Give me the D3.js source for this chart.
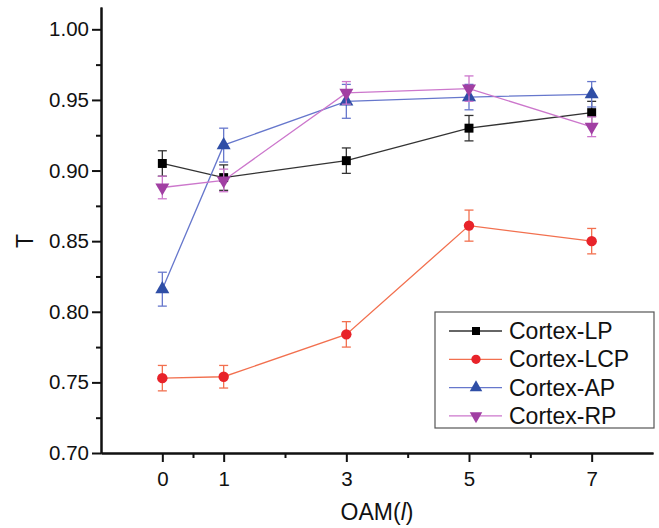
<!DOCTYPE html>
<html lang="en">
<head>
  <meta charset="UTF-8">
  <title>Cortex T vs OAM</title>
  <script src="https://d3js.org/d3.v7.min.js"></script>
  <style>
    body { margin: 0; background: #fff; }
    text { font-family: "Liberation Sans", Arial, sans-serif; fill: #111; }
    .axis path, .axis line { stroke: #111; stroke-width: 2px; }
    .axis text { font-size: 20.5px; }
  </style>
</head>
<body>
<svg id="chart" width="659" height="528"></svg>
<script>
  // data
  const oam = [0, 1, 3, 5, 7];
  const seriesNames = ["Cortex-LP", "Cortex-LCP", "Cortex-AP", "Cortex-RP"];
  const lpT   = [0.905, 0.895, 0.907, 0.930, 0.941];
  const lpErr = [0.009, 0.009, 0.009, 0.009, 0.008];
  const lcpT   = [0.753, 0.754, 0.784, 0.861, 0.850];
  const lcpErr = [0.009, 0.008, 0.009, 0.011, 0.009];
  const apT   = [0.816, 0.918, 0.949, 0.952, 0.954];
  const apErr = [0.012, 0.012, 0.012, 0.009, 0.009];
  const rpT   = [0.888, 0.893, 0.955, 0.958, 0.931];
  const rpErr = [0.008, 0.008, 0.008, 0.009, 0.007];
  const yTicks = [0.70, 0.75, 0.80, 0.85, 0.90, 0.95, 1.00];
  const yMinor = [0.725, 0.775, 0.825, 0.875, 0.925, 0.975];
  const xMinor = [0.5, 2, 4, 6];

  const series = [
    { name: seriesNames[0], t: lpT,  err: lpErr,  line: "#333333", mark: "#000000", shape: d3.symbolSquare,   size: 80,  rot: 0 },
    { name: seriesNames[1], t: lcpT, err: lcpErr, line: "#f2704f", mark: "#e8232a", shape: d3.symbolCircle,   size: 85,  rot: 0 },
    { name: seriesNames[2], t: apT,  err: apErr,  line: "#6677cc", mark: "#2f4ea6", shape: d3.symbolTriangle, size: 85,  rot: 0 },
    { name: seriesNames[3], t: rpT,  err: rpErr,  line: "#cc77cc", mark: "#a13fa3", shape: d3.symbolTriangle, size: 85,  rot: 180 }
  ];

  const svg = d3.select("#chart");
  const plotLeft = 101, plotRight = 653, plotTop = 7, plotBottom = 453;

  const x = d3.scaleLinear().domain([-1, 8]).range([plotLeft, plotRight]);
  const y = d3.scaleLinear().domain([0.70, 1.0158]).range([plotBottom, plotTop]);

  // axes
  svg.append("g").attr("class", "axis")
     .attr("transform", "translate(0," + plotBottom + ")")
     .call(d3.axisBottom(x).tickValues(oam).tickSize(9).tickPadding(9).tickSizeOuter(0).tickFormat(d3.format("d")));
  svg.append("g").attr("class", "axis")
     .attr("transform", "translate(0," + plotBottom + ")")
     .call(d3.axisBottom(x).tickValues(xMinor).tickSize(5).tickSizeOuter(0).tickFormat(""));
  svg.append("g").attr("class", "axis")
     .attr("transform", "translate(" + plotLeft + ",0)")
     .call(d3.axisLeft(y).tickValues(yTicks).tickSize(9).tickPadding(3).tickSizeOuter(0).tickFormat(d3.format(".2f")));
  svg.append("g").attr("class", "axis")
     .attr("transform", "translate(" + plotLeft + ",0)")
     .call(d3.axisLeft(y).tickValues(yMinor).tickSize(5).tickSizeOuter(0).tickFormat(""));

  // axis titles
  const xt = svg.append("text").attr("x", (plotLeft + plotRight) / 2).attr("y", 520)
     .attr("text-anchor", "middle").style("font-size", "23px");
  xt.append("tspan").text("OAM(");
  xt.append("tspan").style("font-style", "italic").text("l");
  xt.append("tspan").text(")");
  svg.append("text").attr("transform", "translate(33,241) rotate(-90)")
     .attr("text-anchor", "middle").style("font-size", "23px").text("T");

  const line = d3.line().x((d, i) => x(oam[i])).y(d => y(d));
  const cap = 4.5;

  series.forEach(s => {
    const g = svg.append("g");
    g.append("path").datum(s.t).attr("d", line)
     .attr("fill", "none").attr("stroke", s.line).attr("stroke-width", 1.3);

    const eb = g.selectAll("g.err").data(s.t).join("g").attr("class", "err")
      .attr("stroke", s.line).attr("stroke-width", 1.3);
    eb.append("line").attr("x1", (d, i) => x(oam[i])).attr("x2", (d, i) => x(oam[i]))
      .attr("y1", (d, i) => y(d + s.err[i])).attr("y2", (d, i) => y(d - s.err[i]));
    eb.append("line").attr("x1", (d, i) => x(oam[i]) - cap).attr("x2", (d, i) => x(oam[i]) + cap)
      .attr("y1", (d, i) => y(d + s.err[i])).attr("y2", (d, i) => y(d + s.err[i]));
    eb.append("line").attr("x1", (d, i) => x(oam[i]) - cap).attr("x2", (d, i) => x(oam[i]) + cap)
      .attr("y1", (d, i) => y(d - s.err[i])).attr("y2", (d, i) => y(d - s.err[i]));

    g.selectAll("path.mk").data(s.t).join("path").attr("class", "mk")
      .attr("d", d3.symbol().type(s.shape).size(s.size))
      .attr("transform", (d, i) => "translate(" + x(oam[i]) + "," + y(d) + ") rotate(" + s.rot + ")")
      .attr("fill", s.mark);
  });

  // legend
  const lg = svg.append("g").attr("transform", "translate(435,312)");
  lg.append("rect").attr("width", 219).attr("height", 116)
    .attr("fill", "#fff").attr("stroke", "#555").attr("stroke-width", 1.2);
  series.forEach((s, i) => {
    const row = lg.append("g").attr("transform", "translate(0," + (19 + i * 28.3) + ")");
    row.append("line").attr("x1", 14).attr("x2", 67).attr("stroke", s.line).attr("stroke-width", 1.3);
    row.append("path").attr("d", d3.symbol().type(s.shape).size(s.size * 0.8))
       .attr("transform", "translate(41,0) rotate(" + s.rot + ")").attr("fill", s.mark);
    row.append("text").attr("x", 74).attr("y", 8).style("font-size", "23px").text(s.name);
  });
</script>
</body>
</html>
